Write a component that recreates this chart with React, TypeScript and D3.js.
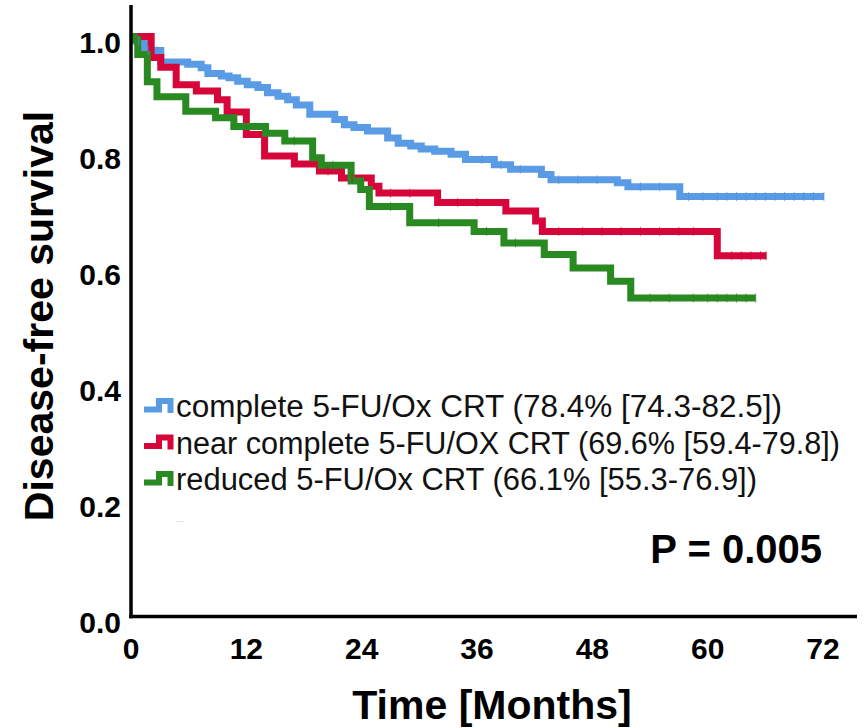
import React, { useEffect, useRef } from 'react';
import * as d3 from 'd3';

// Kaplan-Meier step data (time in months, survival after the step)
const completeTimes = [0, 0.5, 1.4, 3.1, 5.9, 7.3, 8.0, 9.4, 10.2, 11.1, 12.1, 13.2, 14.2, 15.3, 16.3, 17.2, 18.6, 21.2, 22.2, 23.2, 24.6, 26.7, 27.8, 29.1, 30.2, 31.6, 33.3, 34.8, 37.8, 39.5, 42.7, 43.7, 50.6, 51.7, 57.1];
const completeSurv = [1.0, 0.992, 0.976, 0.956, 0.952, 0.946, 0.936, 0.932, 0.929, 0.923, 0.917, 0.912, 0.903, 0.897, 0.891, 0.882, 0.866, 0.857, 0.848, 0.843, 0.837, 0.825, 0.816, 0.811, 0.806, 0.802, 0.797, 0.788, 0.779, 0.771, 0.762, 0.753, 0.748, 0.741, 0.724];
const completeEnd = 72.1;
const completeCensored = [0.8, 1.8, 2.7, 36.5, 38.5, 40.5, 44.5, 46.5, 48.5, 53, 55, 58, 59.5, 61, 62, 63, 64, 65, 66, 67, 68, 69, 70, 71];

const nearTimes = [0, 2.1, 3.1, 4.7, 6.8, 9.0, 10.0, 12.0, 13.9, 17.0, 19.6, 21.9, 25.0, 25.8, 31.9, 39.0, 42.1, 42.8, 61.0];
const nearSurv = [1.0, 0.964, 0.947, 0.917, 0.906, 0.891, 0.870, 0.831, 0.794, 0.780, 0.768, 0.756, 0.742, 0.730, 0.714, 0.699, 0.682, 0.664, 0.622];
const nearEnd = 66.1;
const nearCensored = [20.5, 23, 27, 29, 34, 36, 44.5, 47, 49, 51, 53, 55, 57, 58.5, 62.5, 63.5, 64.5, 65.5];

const reducedTimes = [0, 0.3, 0.7, 1.7, 2.7, 5.7, 8.8, 10.7, 14.0, 16.0, 18.9, 19.8, 22.9, 23.9, 24.8, 29.0, 35.7, 38.8, 43.0, 46.0, 49.9, 52.0];
const reducedSurv = [1.0, 0.995, 0.969, 0.922, 0.896, 0.871, 0.860, 0.845, 0.833, 0.820, 0.791, 0.778, 0.751, 0.736, 0.707, 0.679, 0.664, 0.644, 0.624, 0.601, 0.578, 0.549];
const reducedEnd = 65.0;
const reducedCensored = [12, 17, 21, 27, 32, 37, 40, 54, 56, 58.5, 60, 61, 62, 63, 64];

const seriesLabels = [
  'complete 5-FU/Ox CRT (78.4% [74.3-82.5])',
  'near complete 5-FU/OX CRT (69.6% [59.4-79.8])',
  'reduced 5-FU/Ox CRT (66.1% [55.3-76.9])',
];
const seriesColors = ['#5A9BE6', '#D6063A', '#2A8A22'];

const xTicks = [0, 12, 24, 36, 48, 60, 72];
const yTicks = [0.0, 0.2, 0.4, 0.6, 0.8, 1.0];
const pValueText = 'P = 0.005';

const FONT = "'Liberation Sans', Arial, Helvetica, sans-serif";

export default function App() {
  const ref = useRef<SVGSVGElement | null>(null);
  const width = 864;
  const height = 728;

  useEffect(() => {
    const svg = d3.select(ref.current);
    svg.selectAll('*').remove();

    const x = d3.scaleLinear().domain([0, 72]).range([131, 823]);
    const y = d3.scaleLinear().domain([0, 1]).range([616.5, 36.5]);

    const series = [
      { times: completeTimes, surv: completeSurv, end: completeEnd, cens: completeCensored },
      { times: nearTimes, surv: nearSurv, end: nearEnd, cens: nearCensored },
      { times: reducedTimes, surv: reducedSurv, end: reducedEnd, cens: reducedCensored },
    ];

    const line = d3.line<[number, number]>()
      .x(d => x(d[0]))
      .y(d => y(d[1]))
      .curve(d3.curveStepAfter);

    const survAt = (s: typeof series[0], t: number) => {
      const i = d3.bisectRight(s.times, t) - 1;
      return s.surv[Math.max(0, i)];
    };

    // curves
    series.forEach((s, k) => {
      const pts: [number, number][] = s.times.map((t, i) => [t, s.surv[i]]);
      pts.push([s.end, s.surv[s.surv.length - 1]]);
      svg.append('path')
        .attr('d', line(pts))
        .attr('fill', 'none')
        .attr('stroke', seriesColors[k])
        .attr('stroke-width', 7)
        .attr('stroke-linejoin', 'miter');
    });

    // censor marks (small, subtle ticks)
    series.forEach((s, k) => {
      const marks = [...s.cens, s.end];
      svg.append('g')
        .selectAll('line')
        .data(marks)
        .enter()
        .append('line')
        .attr('x1', d => x(d))
        .attr('x2', d => x(d))
        .attr('y1', d => y(survAt(s, d)) - 4.5)
        .attr('y2', d => y(survAt(s, d)) + 4.5)
        .attr('stroke', d3.color(seriesColors[k])!.darker(0.25).formatHex())
        .attr('stroke-opacity', 0.7)
        .attr('stroke-width', 1);
    });

    // axes
    svg.append('line')
      .attr('x1', x(0)).attr('x2', x(0))
      .attr('y1', 5).attr('y2', y(0) + 1.75)
      .attr('stroke', '#000').attr('stroke-width', 3.5);
    svg.append('line')
      .attr('x1', x(0) - 1.75).attr('x2', 857)
      .attr('y1', y(0)).attr('y2', y(0))
      .attr('stroke', '#000').attr('stroke-width', 3.5);

    svg.append('g')
      .selectAll('text')
      .data(yTicks)
      .enter()
      .append('text')
      .attr('x', 121)
      .attr('y', d => y(d) + 16)
      .attr('text-anchor', 'end')
      .style('font-family', FONT)
      .style('font-weight', 'bold')
      .style('font-size', '30px')
      .style('fill', '#000')
      .text(d => d.toFixed(1));

    svg.append('g')
      .selectAll('text')
      .data(xTicks)
      .enter()
      .append('text')
      .attr('x', d => x(d))
      .attr('y', 658.5)
      .attr('text-anchor', 'middle')
      .style('font-family', FONT)
      .style('font-weight', 'bold')
      .style('font-size', '30px')
      .style('fill', '#000')
      .text(d => String(d));

    // axis titles
    svg.append('text')
      .attr('x', 492)
      .attr('y', 719)
      .attr('text-anchor', 'middle')
      .style('font-family', FONT)
      .style('font-weight', 'bold')
      .style('font-size', '41px')
      .text('Time [Months]');

    svg.append('text')
      .attr('transform', 'translate(53, 316) rotate(-90)')
      .attr('text-anchor', 'middle')
      .style('font-family', FONT)
      .style('font-weight', 'bold')
      .style('font-size', '41px')
      .text('Disease-free survival');

    // legend
    const baselines = [417, 453.5, 490];
    const legendWidths = [606, 664, 581];
    const legend = svg.append('g');
    seriesLabels.forEach((label, k) => {
      const b = baselines[k];
      legend.append('path')
        .attr('d', `M144,${b - 7.5} H159 V${b - 16} H170.5 V${b - 4}`)
        .attr('fill', 'none')
        .attr('stroke', seriesColors[k])
        .attr('stroke-width', 6);
      legend.append('text')
        .attr('x', 176)
        .attr('y', b)
        .attr('textLength', legendWidths[k])
        .attr('lengthAdjust', 'spacingAndGlyphs')
        .style('font-family', FONT)
        .style('font-size', '31px')
        .style('fill', '#111')
        .text(label);
    });
    legend.append('text')
      .attr('x', 176)
      .attr('y', 522)
      .style('font-family', FONT)
      .style('font-size', '9px')
      .style('fill', '#bbb')
      .text('...');

    // p value
    svg.append('text')
      .attr('x', 822)
      .attr('y', 563)
      .attr('text-anchor', 'end')
      .style('font-family', FONT)
      .style('font-weight', 'bold')
      .style('font-size', '40px')
      .text(pValueText);
  }, []);

  return (
    <svg
      ref={ref}
      width={width}
      height={height}
      viewBox={`0 0 ${width} ${height}`}
      style={{ position: 'absolute', left: 0, top: 0, display: 'block', background: '#fff' }}
    />
  );
}
